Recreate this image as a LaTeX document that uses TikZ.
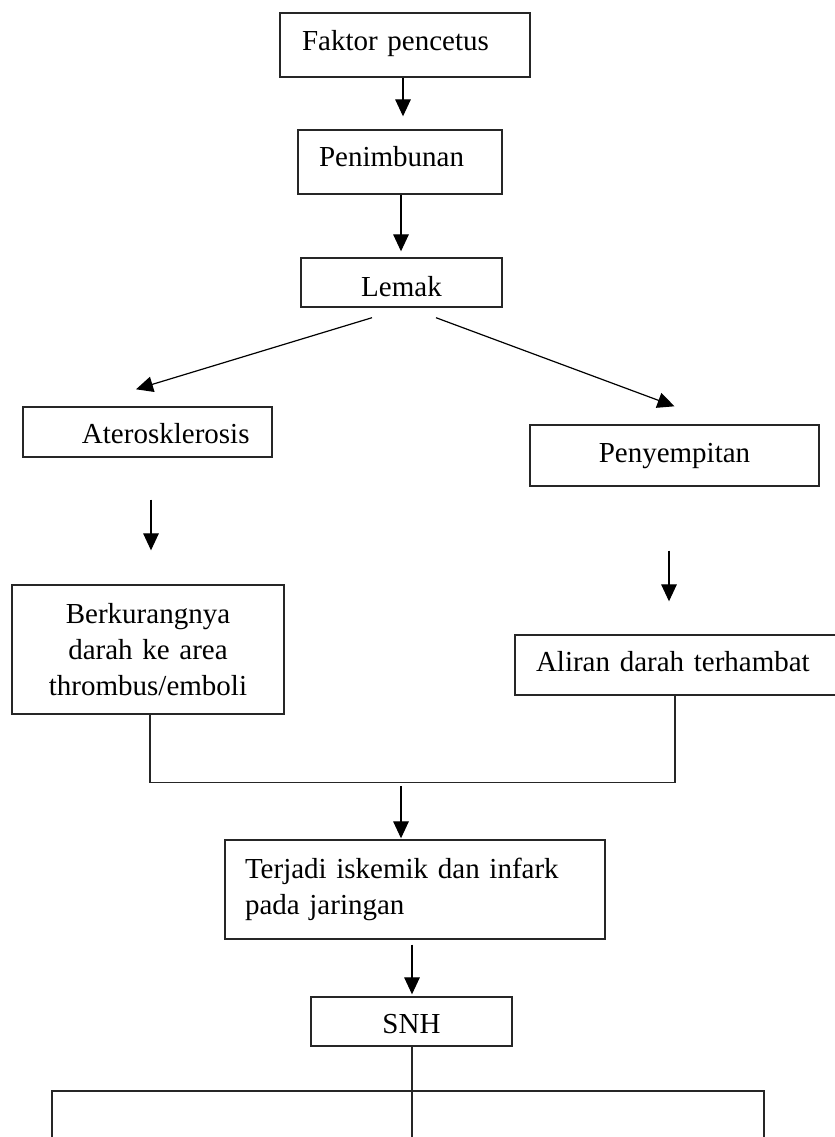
\documentclass[tikz,border=0pt]{standalone}
\usepackage{fontspec}
\setmainfont{Liberation Serif}
\usetikzlibrary{arrows.meta}
\setlength\parindent{0pt}
\begin{document}
\begin{tikzpicture}[x=0.5pt,y=-0.5pt,
  box/.style={draw=black!85, line width=0.7pt, rectangle, inner sep=0pt,
    font=\fontsize{14.5}{18}\selectfont},
  bl/.style={text height=#1, text depth=0pt},
  arr/.style={draw=black, line width=0.6pt, -{Triangle[length=8.5pt,width=7.8pt]}},
  ln/.style={draw=black!85, line width=0.7pt}]
\useasboundingbox (0,0) rectangle (835,1137);

\node[box, bl=5pt, minimum height=32pt, text width=125pt, align=left] (fak) at (405,45) {\hspace*{11pt}Faktor pencetus};
\node[box, bl=4.7pt, minimum height=32pt, text width=102pt, align=left] (pen) at (400,162) {\hspace*{10.5pt}Penimbunan};
\node[box, bl=13.5pt, minimum height=24.5pt, text width=100.5pt, align=center] (lem) at (401.5,282.5) {Lemak};
\node[box, bl=11.3pt, minimum height=25pt, text width=124.5pt, align=left] (ate) at (147.5,432) {\hspace*{29.5pt}Aterosklerosis};
\node[box, bl=7.2pt, minimum height=30.5pt, text width=144.5pt, align=center] (peny) at (674.5,455.5) {Penyempitan};
\node[box, minimum height=64.5pt, text width=136pt, align=center] (berk) at (148,649.5) {Berkurangnya\\darah ke area\\thrombus/emboli};
\node[box, bl=6.7pt, minimum height=30pt, text width=162.5pt, align=left] (alir) at (677.5,665) {\hspace*{10.5pt}Aliran darah terhambat};
\node[box, minimum height=49.5pt, text width=190pt, align=left] (ter) at (415,889.5) {\hspace*{10pt}Terjadi iskemik dan infark\\\hspace*{10pt}pada jaringan};
\node[box, bl=11.5pt, minimum height=24.5pt, text width=100.5pt, align=center] (snh) at (411.5,1021.5) {SNH};

\draw[arr, shorten >=6.5pt] ([xshift=-1pt]fak.south) -- ([xshift=-1pt]fak.south |- pen.north);
\draw[arr, shorten >=3pt] ([xshift=0.5pt]pen.south) -- ([xshift=0.5pt]pen.south |- lem.north);
\draw[arr] ([shift={(-29.5,10)}]lem.south) -- ([shift={(-11.5,-17)}]ate.north);
\draw[arr] ([shift={(34.5,10)}]lem.south) -- ([shift={(0,-18)}]peny.north);
\draw[arr] ([shift={(3.5,42)}]ate.south) -- ([shift={(3,-34)}]berk.north);
\draw[arr] ([shift={(-5.5,64)}]peny.south) -- ([shift={(-8.5,-33)}]alir.north);
\draw[ln] ([xshift=1pt]berk.south) -- ++(0,68) -| ([xshift=-1.25pt]alir.south);
\draw[arr, shorten >=0.5pt] ([shift={(-14,-53)}]ter.north) -- ([xshift=-7pt]ter.north);
\draw[arr, shorten >=1pt] ([shift={(-3,5)}]ter.south) -- ([xshift=0.25pt]snh.north);

\coordinate (bl) at (52,1091);
\coordinate (br) at (764,1091);
\coordinate (blEnd) at (52,1145);
\coordinate (brEnd) at (764,1145);
\draw[ln] ([xshift=0.25pt]snh.south) -- ++(0,100);
\draw[ln] (blEnd) -- (bl) -- (br) -- (brEnd);
\end{tikzpicture}
\end{document}
